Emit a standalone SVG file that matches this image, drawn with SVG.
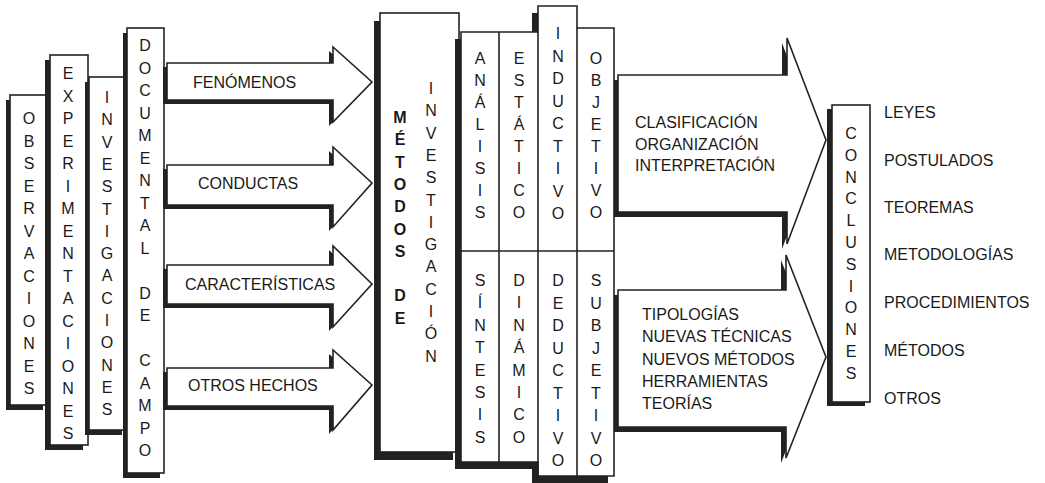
<svg xmlns="http://www.w3.org/2000/svg" width="1045" height="483" viewBox="0 0 1045 483">
<style>
.box{fill:#fff;stroke:#222;stroke-width:1.6}
.sh{fill:#222}
.t{font-family:"Liberation Sans",Arial,sans-serif;font-size:16px;fill:#1a1a1a}
.c{text-anchor:middle}
.b{font-weight:bold}
</style>
<rect width="1045" height="483" fill="#fff"/>
<g id="observaciones">
<rect class="sh" x="6" y="100" width="37" height="310"/>
<rect class="box" x="10" y="95" width="37" height="310"/>
<text class="t c"><tspan x="29" y="124">O</tspan><tspan x="29" y="146.5">B</tspan><tspan x="29" y="169">S</tspan><tspan x="29" y="191.5">E</tspan><tspan x="29" y="214">R</tspan><tspan x="29" y="236.5">V</tspan><tspan x="29" y="259">A</tspan><tspan x="29" y="281.5">C</tspan><tspan x="29" y="304">I</tspan><tspan x="29" y="326.5">O</tspan><tspan x="29" y="349">N</tspan><tspan x="29" y="371.5">E</tspan><tspan x="29" y="394">S</tspan></text>
</g>
<g id="experimentaciones">
<rect class="sh" x="45" y="60" width="38" height="390"/>
<rect class="box" x="50" y="55" width="38" height="390"/>
<text class="t c"><tspan x="68" y="79">E</tspan><tspan x="68" y="101.5">X</tspan><tspan x="68" y="124">P</tspan><tspan x="68" y="146.5">E</tspan><tspan x="68" y="169">R</tspan><tspan x="68" y="191.5">I</tspan><tspan x="68" y="214">M</tspan><tspan x="68" y="236.5">E</tspan><tspan x="68" y="259">N</tspan><tspan x="68" y="281.5">T</tspan><tspan x="68" y="304">A</tspan><tspan x="68" y="326.5">C</tspan><tspan x="68" y="349">I</tspan><tspan x="68" y="371.5">O</tspan><tspan x="68" y="394">N</tspan><tspan x="68" y="416.5">E</tspan><tspan x="68" y="439">S</tspan></text>
</g>
<g id="investigaciones">
<rect class="sh" x="85" y="82" width="37" height="353"/>
<rect class="box" x="89" y="77" width="37" height="353"/>
<text class="t c"><tspan x="107" y="103">I</tspan><tspan x="107" y="125.3">N</tspan><tspan x="107" y="147.6">V</tspan><tspan x="107" y="169.9">E</tspan><tspan x="107" y="192.2">S</tspan><tspan x="107" y="214.5">T</tspan><tspan x="107" y="236.8">I</tspan><tspan x="107" y="259.1">G</tspan><tspan x="107" y="281.4">A</tspan><tspan x="107" y="303.7">C</tspan><tspan x="107" y="326">I</tspan><tspan x="107" y="348.3">O</tspan><tspan x="107" y="370.6">N</tspan><tspan x="107" y="392.9">E</tspan><tspan x="107" y="415.2">S</tspan></text>
</g>
<g id="documental">
<rect class="sh" x="123" y="33" width="37" height="445"/>
<rect class="box" x="127" y="28" width="37" height="445"/>
<text class="t c"><tspan x="145" y="51">D</tspan><tspan x="145" y="73.5">O</tspan><tspan x="145" y="96">C</tspan><tspan x="145" y="118.5">U</tspan><tspan x="145" y="141">M</tspan><tspan x="145" y="163.5">E</tspan><tspan x="145" y="186">N</tspan><tspan x="145" y="208.5">T</tspan><tspan x="145" y="231">A</tspan><tspan x="145" y="253.5">L</tspan><tspan x="145" y="298.5">D</tspan><tspan x="145" y="321">E</tspan><tspan x="145" y="366">C</tspan><tspan x="145" y="388.5">A</tspan><tspan x="145" y="411">M</tspan><tspan x="145" y="433.5">P</tspan><tspan x="145" y="456">O</tspan></text>
</g>
<g id="connectors">
<g id="arrow-fenomenos">
<path class="sh" d="M163,67 H329 V51 L368,86 L329,126 V104 H163 Z"/>
<path class="box" d="M167,63 H333 V47 L372,82 L333,122 V100 H167 Z"/>
<text class="t" x="193" y="88">FENÓMENOS</text>
</g>
<g id="arrow-conductas">
<path class="sh" d="M163,169 H329 V151 L368,187 L329,231 V209 H163 Z"/>
<path class="box" d="M167,165 H333 V147 L372,183 L333,227 V205 H167 Z"/>
<text class="t" x="198" y="189">CONDUCTAS</text>
</g>
<g id="arrow-caracteristicas">
<path class="sh" d="M163,269 H329 V250 L368,288 L329,331 V308 H163 Z"/>
<path class="box" d="M167,265 H333 V246 L372,284 L333,327 V304 H167 Z"/>
<text class="t" x="185" y="290">CARACTERÍSTICAS</text>
</g>
<g id="arrow-otros">
<path class="sh" d="M163,372 H329 V354 L368,389 L329,434 V410 H163 Z"/>
<path class="box" d="M167,368 H333 V350 L372,385 L333,430 V406 H167 Z"/>
<text class="t" x="188" y="391">OTROS HECHOS</text>
</g>
<g id="arrow-clasificacion">
<path class="sh" d="M613,80 H782 V43 L821,145 L782,249 V217 H613 Z"/>
<path class="box" d="M618,75 H787 V38 L826,140 L787,244 V212 H618 Z"/>
<text class="t"><tspan x="635" y="128">CLASIFICACIÓN</tspan><tspan x="635" y="149.5">ORGANIZACIÓN</tspan><tspan x="635" y="171">INTERPRETACIÓN</tspan></text>
</g>
<g id="arrow-tipologias">
<path class="sh" d="M613,295 H781 V260 L821,362 L781,463 V432 H613 Z"/>
<path class="box" d="M618,290 H786 V255 L826,357 L786,458 V427 H618 Z"/>
<text class="t"><tspan x="642" y="320">TIPOLOGÍAS</tspan><tspan x="642" y="342">NUEVAS TÉCNICAS</tspan><tspan x="642" y="364.5">NUEVOS MÉTODOS</tspan><tspan x="642" y="387">HERRAMIENTAS</tspan><tspan x="642" y="408.5">TEORÍAS</tspan></text>
</g>
</g>
<g id="metodos">
<rect class="sh" x="374" y="21" width="79" height="439"/>
<rect class="box" x="380" y="13" width="79" height="439"/>
<text class="t c b"><tspan x="400" y="123">M</tspan><tspan x="400" y="145.3">É</tspan><tspan x="400" y="167.6">T</tspan><tspan x="400" y="189.9">O</tspan><tspan x="400" y="212.2">D</tspan><tspan x="400" y="234.5">O</tspan><tspan x="400" y="256.8">S</tspan><tspan x="400" y="301.4">D</tspan><tspan x="400" y="323.7">E</tspan></text>
<text class="t c"><tspan x="431" y="94">I</tspan><tspan x="431" y="116.3">N</tspan><tspan x="431" y="138.6">V</tspan><tspan x="431" y="160.9">E</tspan><tspan x="431" y="183.2">S</tspan><tspan x="431" y="205.5">T</tspan><tspan x="431" y="227.8">I</tspan><tspan x="431" y="250.1">G</tspan><tspan x="431" y="272.4">A</tspan><tspan x="431" y="294.7">C</tspan><tspan x="431" y="317">I</tspan><tspan x="431" y="339.3">Ó</tspan><tspan x="431" y="361.6">N</tspan></text>
</g>
<g id="metodos-columnas">
<path class="sh" d="M455,39 H532 V13 H571 V35 H608 V483 H532 V469 H455 Z"/>
<path class="box" d="M461,32 H538 V6 H577 V28 H614 V476 H538 V462 H461 Z"/>
<path d="M499,32 V462 M538,32 V476 M577,28 V476 M461,251 H614" fill="none" stroke="#222" stroke-width="1.6"/>
</g>
<g id="analisis">
<text class="t c"><tspan x="480" y="64">A</tspan><tspan x="480" y="86">N</tspan><tspan x="480" y="108">Á</tspan><tspan x="480" y="130">L</tspan><tspan x="480" y="152">I</tspan><tspan x="480" y="174">S</tspan><tspan x="480" y="196">I</tspan><tspan x="480" y="218">S</tspan></text>
</g>
<g id="estatico">
<text class="t c"><tspan x="519" y="64">E</tspan><tspan x="519" y="86">S</tspan><tspan x="519" y="108">T</tspan><tspan x="519" y="130">Á</tspan><tspan x="519" y="152">T</tspan><tspan x="519" y="174">I</tspan><tspan x="519" y="196">C</tspan><tspan x="519" y="218">O</tspan></text>
</g>
<g id="inductivo">
<text class="t c"><tspan x="558" y="39">I</tspan><tspan x="558" y="61.5">N</tspan><tspan x="558" y="84">D</tspan><tspan x="558" y="106.5">U</tspan><tspan x="558" y="129">C</tspan><tspan x="558" y="151.5">T</tspan><tspan x="558" y="174">I</tspan><tspan x="558" y="196.5">V</tspan><tspan x="558" y="219">O</tspan></text>
</g>
<g id="objetivo">
<text class="t c"><tspan x="596" y="64">O</tspan><tspan x="596" y="86">B</tspan><tspan x="596" y="108">J</tspan><tspan x="596" y="130">E</tspan><tspan x="596" y="152">T</tspan><tspan x="596" y="174">I</tspan><tspan x="596" y="196">V</tspan><tspan x="596" y="218">O</tspan></text>
</g>
<g id="sintesis">
<text class="t c"><tspan x="480" y="286">S</tspan><tspan x="480" y="308.4">Í</tspan><tspan x="480" y="330.8">N</tspan><tspan x="480" y="353.2">T</tspan><tspan x="480" y="375.6">E</tspan><tspan x="480" y="398">S</tspan><tspan x="480" y="420.4">I</tspan><tspan x="480" y="442.8">S</tspan></text>
</g>
<g id="dinamico">
<text class="t c"><tspan x="519" y="286">D</tspan><tspan x="519" y="308.4">I</tspan><tspan x="519" y="330.8">N</tspan><tspan x="519" y="353.2">Á</tspan><tspan x="519" y="375.6">M</tspan><tspan x="519" y="398">I</tspan><tspan x="519" y="420.4">C</tspan><tspan x="519" y="442.8">O</tspan></text>
</g>
<g id="deductivo">
<text class="t c"><tspan x="558" y="286">D</tspan><tspan x="558" y="308.5">E</tspan><tspan x="558" y="331">D</tspan><tspan x="558" y="353.5">U</tspan><tspan x="558" y="376">C</tspan><tspan x="558" y="398.5">T</tspan><tspan x="558" y="421">I</tspan><tspan x="558" y="443.5">V</tspan><tspan x="558" y="466">O</tspan></text>
</g>
<g id="subjetivo">
<text class="t c"><tspan x="596" y="286">S</tspan><tspan x="596" y="308.5">U</tspan><tspan x="596" y="331">B</tspan><tspan x="596" y="353.5">J</tspan><tspan x="596" y="376">E</tspan><tspan x="596" y="398.5">T</tspan><tspan x="596" y="421">I</tspan><tspan x="596" y="443.5">V</tspan><tspan x="596" y="466">O</tspan></text>
</g>
<g id="conclusiones">
<rect class="sh" x="827" y="109" width="38" height="297"/>
<rect class="box" x="832" y="105" width="38" height="297"/>
<text class="t c"><tspan x="851" y="139">C</tspan><tspan x="851" y="160.8">O</tspan><tspan x="851" y="182.6">N</tspan><tspan x="851" y="204.4">C</tspan><tspan x="851" y="226.2">L</tspan><tspan x="851" y="248">U</tspan><tspan x="851" y="269.8">S</tspan><tspan x="851" y="291.6">I</tspan><tspan x="851" y="313.4">O</tspan><tspan x="851" y="335.2">N</tspan><tspan x="851" y="357">E</tspan><tspan x="851" y="378.8">S</tspan></text>
</g>
<g id="resultados">
<text class="t"><tspan x="884" y="118">LEYES</tspan><tspan x="884" y="166">POSTULADOS</tspan><tspan x="884" y="213">TEOREMAS</tspan><tspan x="884" y="260">METODOLOGÍAS</tspan><tspan x="884" y="308">PROCEDIMIENTOS</tspan><tspan x="884" y="356">MÉTODOS</tspan><tspan x="884" y="404">OTROS</tspan></text>
</g>
</svg>
